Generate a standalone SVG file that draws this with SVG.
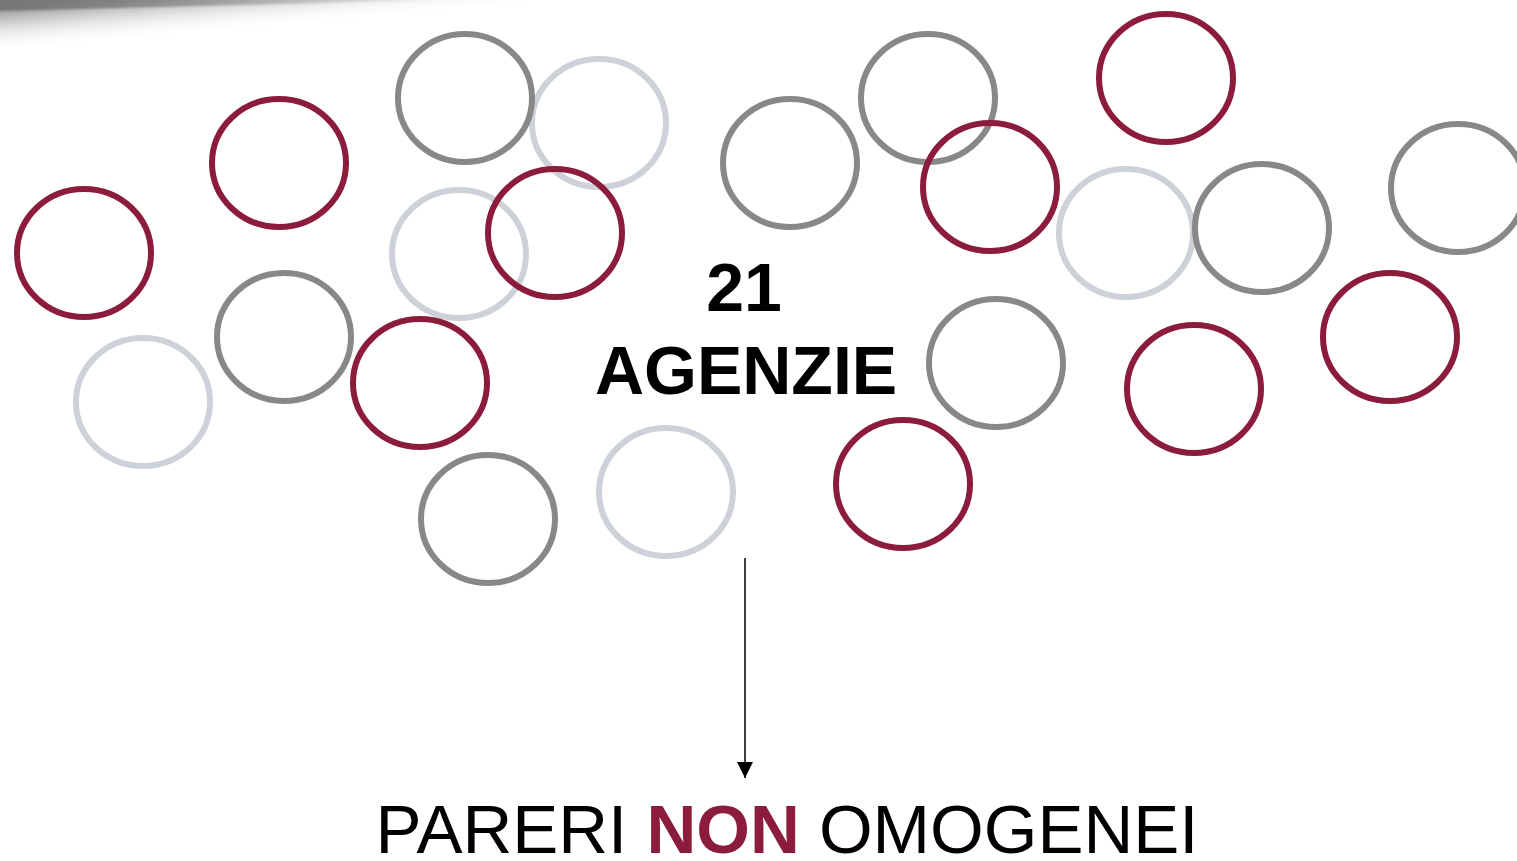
<svg xmlns="http://www.w3.org/2000/svg" width="1517" height="861" viewBox="0 0 1517 861">
<style>
.c{fill:none;stroke-width:6}
.r{stroke:#8c1c3c}
.g{stroke:#888888}
.l{stroke:#cdd1d8}
.t{font-family:"Liberation Sans",Arial,sans-serif;text-anchor:middle}
</style>
<defs>
<linearGradient id="sg" gradientUnits="userSpaceOnUse" x1="0" y1="6" x2="4" y2="50">
<stop offset="0" stop-color="#8a8a8a" stop-opacity="1"/>
<stop offset="0.5" stop-color="#c8c8c8" stop-opacity="0.6"/>
<stop offset="1" stop-color="#ffffff" stop-opacity="0"/>
</linearGradient>
<linearGradient id="dg" gradientUnits="userSpaceOnUse" x1="0" y1="0" x2="440" y2="0">
<stop offset="0" stop-color="#767676"/>
<stop offset="1" stop-color="#767676" stop-opacity="0"/>
</linearGradient>
<filter id="blur" x="-20%" y="-200%" width="140%" height="500%"><feGaussianBlur stdDeviation="4"/></filter>
<filter id="blur2" x="-20%" y="-200%" width="140%" height="500%"><feGaussianBlur stdDeviation="1"/></filter>
<marker id="ah" viewBox="0 0 10 10" refX="10" refY="5" markerWidth="16" markerHeight="16" markerUnits="userSpaceOnUse" orient="auto"><path d="M0,0 L10,5 L0,10 Z" fill="#000"/></marker>
</defs>
<rect width="1517" height="861" fill="#fff"/>
<g id="shadow">
<polygon points="-10,-10 820,-10 820,-4 0,54 -10,54" fill="url(#sg)" filter="url(#blur)"/>
<polygon points="-10,-10 440,-10 440,0 0,11 -10,11" fill="url(#dg)" filter="url(#blur2)"/>
</g>
<g id="circles">
<g id="n4"><ellipse class="c l" cx="599" cy="123" rx="67" ry="64"/></g>
<g id="n5"><ellipse class="c l" cx="459" cy="254" rx="67" ry="64"/></g>
<g id="n8"><ellipse class="c l" cx="143" cy="402" rx="67" ry="64"/></g>
<g id="n11"><ellipse class="c l" cx="666" cy="492" rx="67" ry="64"/></g>
<g id="n16"><ellipse class="c l" cx="1126" cy="233" rx="67" ry="64"/></g>
<g id="n3"><ellipse class="c g" cx="465" cy="98" rx="67" ry="64"/></g>
<g id="n7"><ellipse class="c g" cx="284" cy="337" rx="67" ry="64"/></g>
<g id="n10"><ellipse class="c g" cx="488" cy="519" rx="67" ry="64"/></g>
<g id="n12"><ellipse class="c g" cx="790" cy="163" rx="67" ry="64"/></g>
<g id="n13"><ellipse class="c g" cx="928" cy="98" rx="67" ry="64"/></g>
<g id="n17"><ellipse class="c g" cx="1262" cy="228" rx="67" ry="64"/></g>
<g id="n18"><ellipse class="c g" cx="1458" cy="188" rx="67" ry="64"/></g>
<g id="n21"><ellipse class="c g" cx="996" cy="363" rx="67" ry="64"/></g>
<g id="n1"><ellipse class="c r" cx="84" cy="253" rx="67" ry="64"/></g>
<g id="n2"><ellipse class="c r" cx="279" cy="163" rx="67" ry="64"/></g>
<g id="n6"><ellipse class="c r" cx="555" cy="233" rx="67" ry="64"/></g>
<g id="n9"><ellipse class="c r" cx="420" cy="383" rx="67" ry="64"/></g>
<g id="n14"><ellipse class="c r" cx="990" cy="187" rx="67" ry="64"/></g>
<g id="n15"><ellipse class="c r" cx="1166" cy="78" rx="67" ry="64"/></g>
<g id="n19"><ellipse class="c r" cx="1390" cy="337" rx="67" ry="64"/></g>
<g id="n20"><ellipse class="c r" cx="1194" cy="389" rx="67" ry="64"/></g>
<g id="n22"><ellipse class="c r" cx="903" cy="484" rx="67" ry="64"/></g>
</g>
<g id="title">
<text class="t" x="744" y="311" font-size="68" font-weight="bold" fill="#000">21</text>
<text class="t" x="746" y="394" font-size="68" font-weight="bold" fill="#000">AGENZIE</text>
</g>
<g id="connectors">
<line x1="745" y1="558" x2="745" y2="778" stroke="#000" stroke-width="1.5" marker-end="url(#ah)"/>
</g>
<g id="result">
<text class="t" x="787" y="853" font-size="69" fill="#000">PARERI <tspan font-weight="bold" fill="#8c1c3c">NON</tspan> OMOGENEI</text>
</g>
</svg>
